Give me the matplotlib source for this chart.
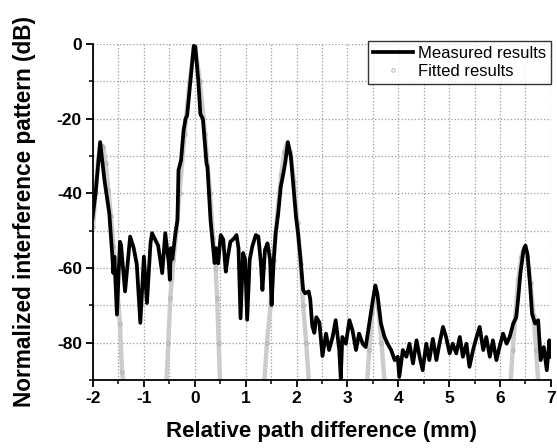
import numpy as np
import matplotlib.pyplot as plt
from matplotlib.lines import Line2D
from matplotlib.ticker import MultipleLocator

# measured interference pattern
meas_x = [-2.01, -1.95, -1.86, -1.775, -1.68, -1.62, -1.60, -1.58, -1.53, -1.47,
          -1.45, -1.37, -1.27, -1.20, -1.14, -1.07, -1.00, -0.94, -0.87, -0.84,
          -0.74, -0.72, -0.64, -0.58, -0.51, -0.49, -0.47, -0.44, -0.38, -0.34,
          -0.32, -0.27, -0.22, -0.18, -0.15, -0.085, -0.02, 0.01, 0.07, 0.11,
          0.16, 0.23, 0.25, 0.31, 0.36, 0.39, 0.42, 0.46, 0.51, 0.56,
          0.61, 0.65, 0.70, 0.78, 0.82, 0.86, 0.90, 0.95, 0.99, 1.03,
          1.08, 1.13, 1.20, 1.25, 1.30, 1.33, 1.38, 1.43, 1.48, 1.51,
          1.55, 1.59, 1.64, 1.69, 1.74, 1.78, 1.83, 1.89, 1.94, 1.99,
          2.03, 2.08, 2.13, 2.17, 2.24, 2.27, 2.31, 2.35, 2.39, 2.45,
          2.51, 2.58, 2.64, 2.71, 2.77, 2.84, 2.87, 2.90, 2.97, 3.04,
          3.10, 3.17, 3.23, 3.30, 3.36, 3.43, 3.50, 3.55, 3.59, 3.66,
          3.73, 3.79, 3.86, 3.93, 3.99, 4.02, 4.09, 4.16, 4.22, 4.29,
          4.36, 4.42, 4.48, 4.55, 4.61, 4.68, 4.75, 4.81, 4.88, 4.94,
          5.01, 5.07, 5.14, 5.21, 5.27, 5.34, 5.40, 5.47, 5.54, 5.60,
          5.67, 5.73, 5.80, 5.86, 5.93, 5.99, 6.06, 6.13, 6.19, 6.26,
          6.32, 6.36, 6.40, 6.46, 6.50, 6.54, 6.59, 6.63, 6.69, 6.75,
          6.80, 6.86, 6.92, 6.97, 7.00]
meas_db = [-46.7, -40.0, -26.3, -36.5, -45.4, -57.0, -61.4, -57.0, -72.5, -53.0,
           -53.8, -66.3, -51.6, -54.7, -59.0, -74.7, -57.0, -69.4, -53.4, -50.7,
           -53.4, -54.0, -61.4, -50.7, -58.8, -63.2, -54.7, -57.6, -50.7, -47.2,
           -33.8, -31.2, -23.2, -20.0, -19.2, -9.9, -0.5, -0.8, -9.9, -18.8,
           -20.1, -32.0, -33.0, -47.2, -54.3, -58.7, -54.7, -58.8, -51.2, -52.4,
           -61.0, -57.0, -53.0, -52.0, -51.2, -54.7, -73.5, -56.0, -57.8, -73.9,
           -57.8, -54.3, -51.2, -51.6, -58.8, -65.9, -55.2, -53.4, -57.8, -69.9,
           -58.3, -50.7, -45.4, -38.3, -34.8, -31.7, -26.3, -30.3, -38.3, -46.3,
           -50.7, -57.8, -65.9, -66.8, -66.3, -68.4, -75.5, -77.4, -73.2, -74.6,
           -83.6, -77.6, -82.0, -78.5, -74.0, -82.0, -89.6, -78.5, -80.3, -74.0,
           -76.7, -82.0, -77.6, -80.3, -81.2, -74.9, -68.7, -64.7, -67.0, -74.9,
           -78.5, -80.3, -82.0, -84.7, -83.8, -89.2, -82.0, -83.8, -80.3, -85.6,
           -79.4, -83.8, -87.4, -80.3, -84.7, -79.0, -84.7, -80.3, -75.8, -78.5,
           -82.9, -80.3, -82.9, -78.5, -83.8, -80.3, -86.5, -82.0, -78.5, -75.8,
           -82.0, -78.5, -83.8, -79.4, -84.7, -81.2, -77.6, -80.3, -78.5, -74.9,
           -73.2, -67.8, -61.6, -55.4, -54.0, -56.3, -64.3, -72.3, -74.9, -74.0,
           -84.7, -81.2, -87.4, -79.4, -83.8]

# fitted results, one list per lobe
fit_lobes_x = [
    [-2.0, -1.95, -1.9, -1.85, -1.8, -1.75, -1.7, -1.65, -1.6, -1.55, -1.5, -1.47, -1.43, -1.39],
    [-0.56, -0.52, -0.48, -0.42, -0.36, -0.3, -0.2, -0.1, 0.0, 0.1, 0.2, 0.3, 0.36, 0.41, 0.44, 0.47, 0.5],
    [1.36, 1.42, 1.49, 1.55, 1.62, 1.7, 1.76, 1.82, 1.88, 1.95, 2.02, 2.08, 2.13, 2.19, 2.25],
    [3.38, 3.43, 3.49, 3.55, 3.61, 3.67, 3.74],
    [6.2, 6.25, 6.3, 6.36, 6.42, 6.48, 6.54, 6.6, 6.66, 6.71, 6.76],
]
fit_lobes_db = [
    [-49, -40, -31, -27, -27.5, -32, -39, -46, -54, -62, -70, -75, -88, -92],
    [-92, -80, -68, -58, -50, -40, -24, -10, 0, -10, -24, -40, -52, -60, -68, -80, -92],
    [-92, -80, -70, -58, -46, -35, -29, -26.5, -29, -37, -48, -59, -70, -80, -92],
    [-92, -82, -72, -66.5, -71, -80, -92],
    [-92, -82, -73, -63, -57, -54.5, -57, -64, -73, -82, -92],
]

plt.rcParams['font.family'] = ['Liberation Sans', 'DejaVu Sans']
plt.rcParams['axes.unicode_minus'] = False

fig = plt.figure(figsize=(5.57, 4.48), dpi=100)
ax = fig.add_axes([0.167, 0.152, 0.822, 0.750])

for fx, fy in zip(fit_lobes_x, fit_lobes_db):
    ax.plot(fx, fy, '-', color='#cccccc', lw=3.2, zorder=2)
    ax.plot(fx, fy, 'o', ms=2.5, mfc='none', mec='#a8a8a8', mew=0.6, zorder=2)

ax.plot(meas_x, meas_db, '-', color='black', lw=2.7, zorder=3)

ax.set_xlim(-2, 7)
ax.set_ylim(-90, 0)
ax.xaxis.set_major_locator(MultipleLocator(1))
ax.xaxis.set_minor_locator(MultipleLocator(0.5))
ax.yaxis.set_major_locator(MultipleLocator(20))
ax.yaxis.set_minor_locator(MultipleLocator(10))
ax.grid(True, which='both', color='#9a9a9a', linestyle=':', lw=0.9)
ax.set_axisbelow(True)

for s in ['top', 'right']:
    ax.spines[s].set_visible(False)
for s in ['left', 'bottom']:
    ax.spines[s].set_linewidth(1.3)

ax.tick_params(which='major', direction='out', length=5, width=1.3,
               labelsize=12.5, pad=3)
ax.tick_params(which='minor', direction='out', length=3, width=1.1)
for lab in ax.get_xticklabels() + ax.get_yticklabels():
    lab.set_fontweight('bold')

ax.set_xlabel('Relative path difference (mm)', fontsize=16,
              fontweight='bold', labelpad=11)
ax.set_ylabel('Normalized interference pattern (dB)', fontsize=16.3,
              fontweight='bold', labelpad=15)

handles = [Line2D([], [], color='black', lw=2.7),
           Line2D([], [], ls='none', marker='o', ms=2.5, mfc='none',
                  mec='#a8a8a8', mew=0.6)]
leg = ax.legend(handles, ['Measured results', 'Fitted results'],
                loc='upper right', bbox_to_anchor=(1.0, 1.01),
                fontsize=12, frameon=True, fancybox=False,
                handlelength=2.4, handletextpad=0.3, borderpad=0.3,
                labelspacing=0.2, borderaxespad=0)
leg.get_frame().set_edgecolor('black')
leg.get_frame().set_linewidth(1.0)
leg._legend_box.sep = 4

fig.savefig('out.png', dpi=100)
